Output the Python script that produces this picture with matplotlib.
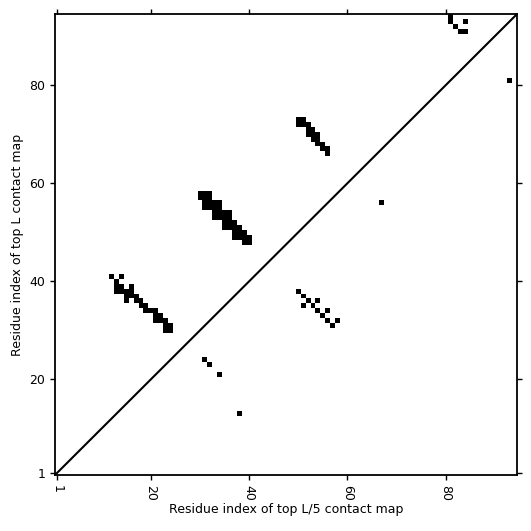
import numpy as np
import matplotlib
matplotlib.use('Agg')
import matplotlib.pyplot as plt

seq_len = 94
tick_vals = [1, 20, 40, 60, 80]

# contacts above the diagonal (top L map): (i, j)
upper_i = [12, 14, 13, 13, 14, 16, 13, 14, 15, 16, 15, 16, 17, 15, 17, 18,
           18, 19, 19, 20, 21, 21, 22, 21, 22, 23, 23, 24, 23, 24,
           30, 31, 32, 30, 31, 32, 31, 32, 33, 34, 31, 32, 33, 34,
           33, 34, 35, 36, 33, 34, 35, 36, 35, 36, 37, 35, 36, 37, 38,
           37, 38, 39, 37, 38, 39, 40, 39, 40,
           50, 51, 50, 51, 52, 52, 53, 52, 53, 54, 53, 54, 54, 55, 55, 56, 56,
           81, 81, 82, 83, 84, 84]
upper_j = [41, 41, 40, 39, 39, 39, 38, 38, 38, 38, 37, 37, 37, 36, 36, 36,
           35, 35, 34, 34, 34, 33, 33, 32, 32, 32, 31, 31, 30, 30,
           58, 58, 58, 57, 57, 57, 56, 56, 56, 56, 55, 55, 55, 55,
           54, 54, 54, 54, 53, 53, 53, 53, 52, 52, 52, 51, 51, 51, 51,
           50, 50, 50, 49, 49, 49, 49, 48, 48,
           73, 73, 72, 72, 72, 71, 71, 70, 70, 70, 69, 69, 68, 68, 67, 67, 66,
           94, 93, 92, 91, 91, 93]

# contacts below the diagonal (top L/5 map)
lower_i = [31, 32, 34, 38, 50, 51, 51, 52, 53, 54, 54, 55, 56, 56, 57, 58, 67, 93]
lower_j = [24, 23, 21, 13, 38, 37, 35, 36, 35, 36, 34, 33, 34, 32, 31, 32, 56, 81]

cmap = np.zeros((seq_len, seq_len))
for i, j in zip(upper_i + lower_i, upper_j + lower_j):
    cmap[j - 1, i - 1] = 1

fig = plt.figure(figsize=(5.31, 5.31), dpi=100)
ax = fig.add_axes([0.1036, 0.1055, 0.870, 0.868])
ax.imshow(cmap, cmap='Greys', origin='lower', interpolation='nearest',
          extent=(0.5, seq_len + 0.5, 0.5, seq_len + 0.5), vmin=0, vmax=1,
          aspect='auto')
ax.plot([0.5, seq_len + 0.5], [0.5, seq_len + 0.5], color='black', lw=1.5)
ax.set_xlim(0.5, seq_len + 0.5)
ax.set_ylim(0.5, seq_len + 0.5)
ax.set_xticks(tick_vals)
ax.set_yticks(tick_vals)
ax.set_xticklabels([str(t) for t in tick_vals], rotation=270, fontsize=9)
ax.set_yticklabels([str(t) for t in tick_vals], fontsize=9)
ax.tick_params(top=True, right=True, labeltop=False, labelright=False, width=1)
for s in ax.spines.values():
    s.set_linewidth(1.3)
ax.set_xlabel('Residue index of top L/5 contact map', fontsize=9, labelpad=2)
ax.set_ylabel('Residue index of top L contact map', fontsize=9, labelpad=4)
fig.savefig('out.png', dpi=100)
